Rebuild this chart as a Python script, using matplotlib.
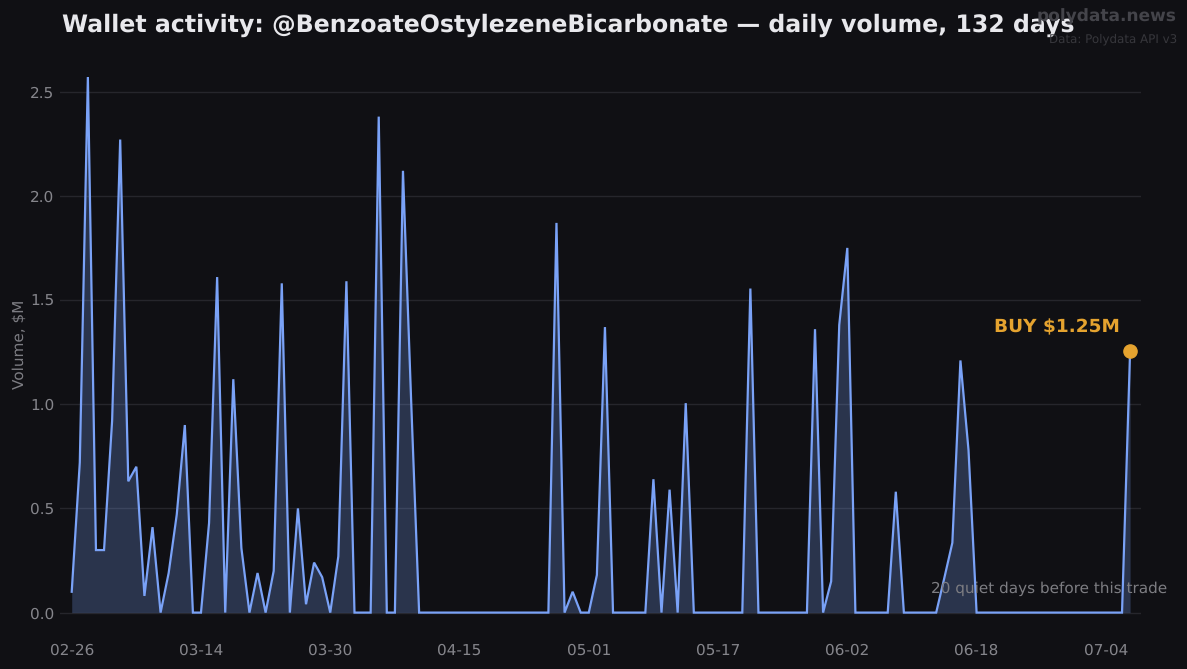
import matplotlib
matplotlib.use("Agg")
import matplotlib.pyplot as plt

plt.rcParams["font.family"] = ["DejaVu Sans"]
plt.rcParams["text.hinting"] = "no_hinting"
plt.rcParams["text.hinting_factor"] = 8

BG = "#101014"
volume_m = [
    0.10, 0.72, 2.57, 0.30, 0.30, 0.92, 2.27, 0.63, 0.70, 0.08,
    0.41, 0.0, 0.19, 0.47, 0.90, 0.0, 0.0, 0.43, 1.61, 0.0,
    1.12, 0.31, 0.0, 0.19, 0.0, 0.20, 1.58, 0.0, 0.50, 0.04,
    0.24, 0.17, 0.0, 0.27, 1.59, 0.0, 0.0, 0.0, 2.38, 0.0,
    0.0, 2.12, 1.03, 0.0, 0.0, 0.0, 0.0, 0.0, 0.0, 0.0,
    0.0, 0.0, 0.0, 0.0, 0.0, 0.0, 0.0, 0.0, 0.0, 0.0,
    1.87, 0.0, 0.10, 0.0, 0.0, 0.18, 1.37, 0.0, 0.0, 0.0,
    0.0, 0.0, 0.64, 0.0, 0.59, 0.0, 1.005, 0.0, 0.0, 0.0,
    0.0, 0.0, 0.0, 0.0, 1.555, 0.0, 0.0, 0.0, 0.0, 0.0,
    0.0, 0.0, 1.36, 0.0, 0.15, 1.38, 1.75, 0.0, 0.0, 0.0,
    0.0, 0.0, 0.58, 0.0, 0.0, 0.0, 0.0, 0.0, 0.165, 0.335,
    1.21, 0.78, 0.0, 0.0, 0.0, 0.0, 0.0, 0.0, 0.0, 0.0,
    0.0, 0.0, 0.0, 0.0, 0.0, 0.0, 0.0, 0.0, 0.0, 0.0,
    0.0, 1.255,
]
days = list(range(len(volume_m)))
tick_days = [0, 16, 32, 48, 64, 80, 96, 112, 128]
tick_labels = ["02-26", "03-14", "03-30", "04-15", "05-01", "05-17", "06-02", "06-18", "07-04"]
y_ticks = [0.0, 0.5, 1.0, 1.5, 2.0, 2.5]

fig = plt.figure(figsize=(11.87, 6.69), dpi=100, facecolor=BG)
W, H = 1187, 669
ax = fig.add_axes([60 / W, 1 - 637.6 / H, (1141 - 60) / W, (637.6 - 51.6) / H], facecolor=BG)

ax.fill_between(days, volume_m, 0, color="#7aa2f7", alpha=0.25, linewidth=0)
ax.plot(days, volume_m, color="#7aa2f7", lw=1.6, solid_joinstyle="miter")
ax.plot(days[-1], volume_m[-1], "o", color="#e5a32f", ms=9.5, zorder=5)

ax.set_xlim(-1.45, len(days) - 1 + 1.35)
ax.set_ylim(-0.12, 2.692)
ax.set_xticks(tick_days, tick_labels)
ax.set_yticks(y_ticks, [f"{v:.1f}" for v in y_ticks])
ax.tick_params(axis="both", length=0, labelcolor="#85858b", labelsize=11)
ax.tick_params(axis="x", pad=4.5)
ax.tick_params(axis="y", pad=4)
ax.grid(axis="y", color="#26262c", lw=1)
ax.set_axisbelow(True)
for s in ax.spines.values():
    s.set_visible(False)
ax.set_ylabel("Volume, $M".replace("$", r"\$"), color="#7d7d83", fontsize=11, labelpad=2)

ax.annotate("BUY $1.25M".replace("$", r"\$"), xy=(days[-1], volume_m[-1]), xytext=(-7.5, 10.5),
            textcoords="offset points", ha="right", va="bottom",
            color="#e5a32f", fontsize=13.3, fontweight="bold")
ax.annotate("20 quiet days before this trade", xy=(days[-1], 0), xytext=(27, 17),
            textcoords="offset points", ha="right", va="center",
            color="#7d7d82", fontsize=11, annotation_clip=False)

fig.text(62 / W, 1 - 25 / H, "Wallet activity: @BenzoateOstylezeneBicarbonate \u2014 daily volume, 132 days",
         color="#e8e8ec", fontsize=17.05, fontweight="bold", ha="left", va="center")
fig.text(1177 / W, 1 - 17 / H, "polydata.news", color="#44444a", fontsize=12.25,
         fontweight="bold", ha="right", va="center", zorder=5)
fig.text(1177 / W, 1 - 39 / H, "Data: Polydata API v3", color="#37373c", fontsize=8.55,
         ha="right", va="center")

fig.savefig("out.png", dpi=100, facecolor=BG)
